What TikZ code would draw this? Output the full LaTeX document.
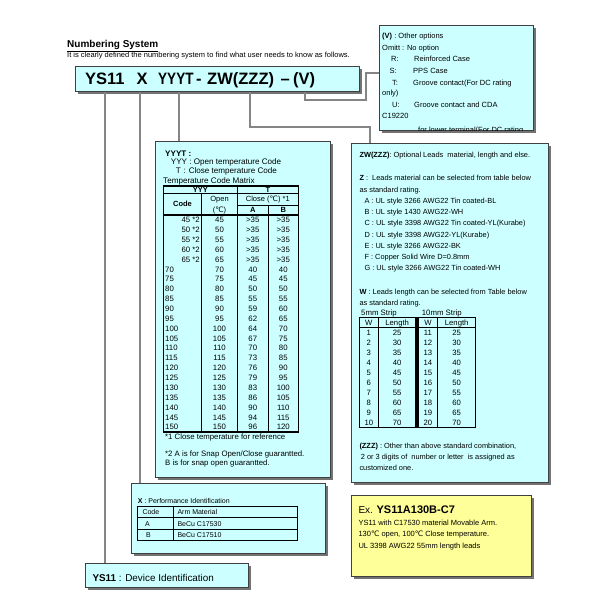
\documentclass[tikz,border=0pt]{standalone}
\usepackage{fontspec}
\usepackage{graphicx}
\setmainfont{Liberation Sans}
\newfontfamily\dejavu{DejaVu Sans}
\newcommand\degC{{\dejavu\char"2103}}
\usetikzlibrary{shadows}
\definecolor{boxcyan}{HTML}{CCFFFF}
\definecolor{boxyellow}{HTML}{FFFF99}
\definecolor{conngray}{HTML}{858585}
\newcounter{tn}
% \tx{anchor}{x}{center y}{size}{text}
\newcommand\tx[5]{\stepcounter{tn}\pgfmathsetmacro\bl{#3+0.36*#4}\node[anchor=#1,inner sep=0,font=\fontsize{#4}{#4}\selectfont] (t\thetn) at (#2,\bl) {#5};}
\tikzset{
  cbox/.style={draw=black!75, line width=0.7pt, fill=boxcyan, inner sep=0, anchor=north west,
    drop shadow={shadow xshift=3pt, shadow yshift=-3pt, fill=black!55, opacity=1}},
  ybox/.style={cbox, fill=boxyellow},
  conn/.style={draw=conngray, line width=1.1pt},
  tbl/.style={draw=black, line width=0.7pt},
  tblo/.style={draw=black, line width=1.1pt},
}
\begin{document}
\begin{tikzpicture}[x=1pt,y=-1pt]
\useasboundingbox[fill=white] (0,0) rectangle (600,600);

% title
\tx{base west}{67}{44}{10}{\bfseries\underline{Numbering System}}
\tx{base west}{67}{55}{7.5}{It is clearly defined the numbering system to find what user needs to know as follows.}

% boxes (nodes) - geometry
\coordinate (kYS) at (105,0);
\coordinate (kX) at (140,0);
\coordinate (kY) at (179,0);
\coordinate (kZ1) at (250,127);
\coordinate (kZ2) at (370,127);
\coordinate (kV1) at (305,100);
\coordinate (kV2) at (366,100);
\coordinate (kV3) at (366,73);

\node[cbox, minimum width=284pt, minimum height=25pt] (main) at (75,66) {};
\node[cbox, minimum width=154pt, minimum height=105pt] (vbox) at (379,25) {};
\node[cbox, minimum width=175pt, minimum height=336pt] (ybox) at (155,141) {};
\node[cbox, minimum width=197pt, minimum height=339pt] (zbox) at (351,143) {};
\node[cbox, minimum width=194pt, minimum height=70pt] (xbox) at (131,483) {};
\node[cbox, minimum width=163pt, minimum height=24pt] (sbox) at (85,563) {};
\node[ybox, minimum width=180pt, minimum height=81pt] (ebox) at (351,495) {};

% connectors
\draw[conn] (main.south -| kYS) -- (sbox.north -| kYS);
\draw[conn] (main.south -| kX) -- (xbox.north -| kX);
\draw[conn] (main.south -| kY) -- (ybox.north -| kY);
\draw[conn] (main.south -| kZ1) -- (kZ1) -- (kZ2) -- (zbox.north -| kZ2);
\draw[conn] (main.south -| kV1) -- (kV1) -- (kV2) -- (kV3) -- (vbox.west |- kV3);

% main code
\tx{base west}{85}{79}{16.5}{\bfseries YS11}
\tx{base west}{136.5}{79}{16.5}{\bfseries X}
\tx{base west}{158}{79}{16.5}{\bfseries\scalebox{0.82}[1]{YYYT}}
\tx{base west}{196}{79}{16.5}{\bfseries -}
\tx{base west}{207}{79}{16.5}{\bfseries ZW(ZZZ)}
\tx{base west}{280.5}{79}{16.5}{\bfseries –}
\tx{base west}{293}{79}{16.5}{\bfseries (V)}

% V box
\begin{scope}
\clip ([yshift=0.6pt]vbox.south west) rectangle (vbox.north east);
\tx{base west}{382}{35.7}{7.5}{\textbf{(V)} : Other options}
\tx{base west}{382}{47.7}{7.5}{Omitt : No option}
\tx{base west}{391}{59}{7.5}{R:}
\tx{base west}{414}{59}{7.5}{Reinforced Case}
\tx{base west}{389.5}{70.7}{7.5}{S:}
\tx{base west}{413}{70.7}{7.5}{PPS Case}
\tx{base west}{392}{82.3}{7.5}{T:}
\tx{base west}{413}{82.3}{7.5}{Groove contact(For DC rating}
\tx{base west}{382}{93.2}{7.5}{only)}
\tx{base west}{392}{104.3}{7.5}{U:}
\tx{base west}{414}{104.3}{7.5}{Groove contact and CDA}
\tx{base west}{382}{115.3}{7.5}{C19220}
\tx{base west}{418}{130}{7.5}{for lower terminal(For DC rating}
\end{scope}

% YYYT box
\tx{base west}{165}{153.5}{8.1}{\bfseries YYYT :}
\tx{base west}{170.7}{161.9}{8.1}{YYY : Open temperature Code}
\tx{base west}{175.7}{171}{8.1}{T}
\tx{base west}{183.3}{171}{8.1}{: Close temperature Code}
\tx{base west}{163}{180.3}{8.1}{Temperature Code Matrix}

\draw[tblo] (163.3,186) rectangle (298.3,432);
\draw[tbl] (163.3,193) -- (298.3,193);
\draw[tbl] (237.3,205) -- (298.3,205);
\draw[tblo] (163.3,215) -- (298.3,215);
\draw[tbl] (201.7,193) -- (201.7,432);
\draw[tblo] (237.3,186) -- (237.3,432);
\draw[tbl] (268.3,205) -- (268.3,432);

\tx{base}{200.3}{189.6}{7.5}{\bfseries YYY}
\tx{base}{267.8}{189.6}{7.5}{\bfseries T}
\tx{base}{182.5}{204}{7.5}{\bfseries Code}
\tx{base}{219.5}{199}{7.5}{Open}
\tx{base}{219.5}{210}{7.5}{(\degC)}
\tx{base}{267.8}{199}{7.5}{Close (\degC) *1}
\tx{base}{252.8}{210}{7.5}{\bfseries A}
\tx{base}{283.3}{210}{7.5}{\bfseries B}

\foreach \o/\a/\b [count=\i from 0] in {45/{>35}/{>35},50/{>35}/{>35},55/{>35}/{>35},60/{>35}/{>35},65/{>35}/{>35},70/40/40,75/45/45,80/50/50,85/55/55,90/59/60,95/62/65,100/64/70,105/67/75,110/70/80,115/73/85,120/76/90,125/79/95,130/83/100,135/86/105,140/90/110,145/94/115,150/96/120}{
  \pgfmathsetmacro\yy{220+9.86*\i}
  \ifnum\i<5
    \tx{base east}{200}{\yy}{7.8}{\o\ *2}
  \else
    \tx{base west}{165}{\yy}{7.8}{\o}
  \fi
  \tx{base}{219.5}{\yy}{7.8}{\o}
  \tx{base}{252.8}{\yy}{7.8}{\a}
  \tx{base}{283.3}{\yy}{7.8}{\b}
}
\tx{base west}{165}{436.5}{7.8}{*1 Close temperature for reference}
\tx{base west}{165}{454}{7.8}{*2 A is for Snap Open/Close guarantted.}
\tx{base west}{165}{462.8}{7.8}{B is for snap open guarantted.}

% ZW box
\tx{base west}{359.3}{155}{7.4}{\textbf{ZW(ZZZ)}: Optional Leads\ \ material, length and else.}
\tx{base west}{359.3}{178.3}{7.4}{\textbf{Z} :\ \ Leads material can be selected from table below}
\tx{base west}{359.3}{190}{7.4}{as standard rating.}
\foreach \s [count=\i from 0] in {{A : UL style 3266 AWG22 Tin coated-BL},{B : UL style 1430 AWG22-WH},{C : UL style 3398 AWG22 Tin coated-YL(Kurabe)},{D : UL style 3398 AWG22-YL(Kurabe)},{E : UL style 3266 AWG22-BK},{F : Copper Solid Wire D=0.8mm},{G : UL style 3266 AWG22 Tin coated-WH}}{
  \pgfmathsetmacro\yy{200.7+11.27*\i}
  \tx{base west}{364.3}{\yy}{7.4}{\s}
}
\tx{base west}{359.3}{291.7}{7.4}{\textbf{W} : Leads length can be selected from Table below}
\tx{base west}{359.3}{302.7}{7.4}{as standard rating.}
\tx{base west}{361}{312.5}{7.8}{5mm Strip}
\tx{base west}{421.7}{312.5}{7.8}{10mm Strip}

\foreach \xa/\xb/\xc in {359.3/378.3/416, 418/437.7/475.7}{
  \draw[tblo] (\xa,317.3) rectangle (\xc,427.3);
  \draw[tbl] (\xb,317.3) -- (\xb,427.3);
  \draw[tbl] (\xa,327.3) -- (\xc,327.3);
}
\tx{base}{368.8}{322.3}{7.7}{W}
\tx{base}{397.2}{322.3}{7.7}{Length}
\tx{base}{427.9}{322.3}{7.7}{W}
\tx{base}{456.7}{322.3}{7.7}{Length}
\foreach \i in {1,...,10}{
  \pgfmathsetmacro\yy{332.7+9.96*(\i-1)}
  \pgfmathtruncatemacro\ln{20+5*\i}
  \pgfmathtruncatemacro\wb{10+\i}
  \tx{base}{368.8}{\yy}{7.7}{\i}
  \tx{base}{397.2}{\yy}{7.7}{\ln}
  \tx{base}{427.9}{\yy}{7.7}{\wb}
  \tx{base}{456.7}{\yy}{7.7}{\ln}
}
\tx{base west}{359.3}{446}{7.4}{\textbf{(ZZZ)} : Other than above standard combination,}
\tx{base west}{360.7}{457}{7.4}{2 or 3 digits of\ \ number or letter\ \ is assigned as}
\tx{base west}{359.3}{468.3}{7.4}{customized one.}

% X box
\tx{base west}{137.7}{500.7}{7}{\textbf{X} : Performance Identification}
\draw[tbl, line width=0.5pt] (137.3,506) rectangle (297.3,540.7);
\draw[tbl, line width=0.5pt] (173.3,506) -- (173.3,540.7);
\draw[tbl, line width=0.5pt] (137.3,517.7) -- (297.3,517.7);
\draw[tbl, line width=0.5pt] (137.3,529.3) -- (297.3,529.3);
\tx{base west}{142.3}{511.8}{7}{Code}
\tx{base west}{177.3}{511.8}{7}{Arm Material}
\tx{base}{147.5}{523.5}{7}{A}
\tx{base west}{177.3}{523.5}{7}{BeCu C17530}
\tx{base}{148.5}{535}{7}{B}
\tx{base west}{177.3}{535}{7}{BeCu C17510}

% YS11 box
\tx{base west}{92.3}{577.7}{9.9}{\textbf{YS11} : Device Identification}

% Example box
\tx{base west}{358.3}{510}{10}{Ex. {\fontsize{11}{11}\selectfont\bfseries YS11A130B-C7}}
\tx{base west}{358.3}{522.3}{7.5}{YS11 with C17530 material Movable Arm.}
\tx{base west}{358.3}{534}{7.5}{130\degC{} open, 100\degC{} Close temperature.}
\tx{base west}{358.3}{546}{7.5}{UL 3398 AWG22 55mm length leads}
\end{tikzpicture}
\end{document}
